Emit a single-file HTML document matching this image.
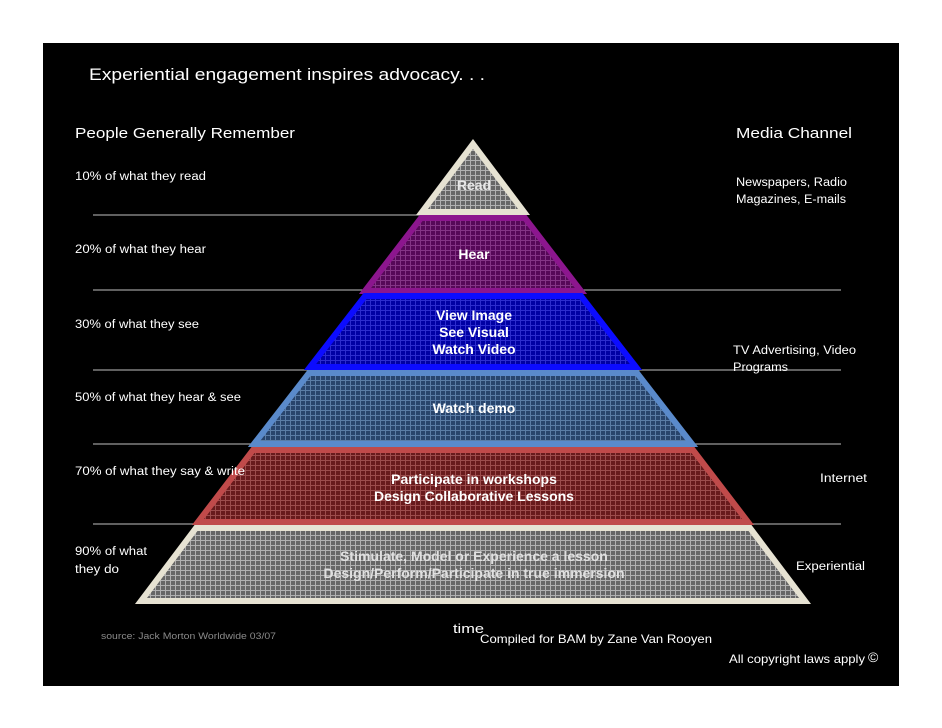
<!DOCTYPE html>
<html><head><meta charset="utf-8"><style>html,body{margin:0;padding:0;background:#fff}svg{display:block}</style></head><body>
<svg width="942" height="728" xmlns="http://www.w3.org/2000/svg" font-family="Liberation Sans, sans-serif">
<defs>
<pattern id="pg" width="5" height="5" patternUnits="userSpaceOnUse"><rect width="5" height="5" fill="#666"/><path d="M0 0.5H5M0.5 0V5" stroke="#b0b0b0" stroke-width="1"/></pattern>
<pattern id="pp" width="5" height="5" patternUnits="userSpaceOnUse"><rect width="5" height="5" fill="#560858"/><path d="M0 0.5H5M0.5 0V5" stroke="#843486" stroke-width="1"/></pattern>
<pattern id="pb" width="5" height="5" patternUnits="userSpaceOnUse"><rect width="5" height="5" fill="#0000a4"/><path d="M0 0.5H5M0.5 0V5" stroke="#2c2cce" stroke-width="1"/></pattern>
<pattern id="pl" width="5" height="5" patternUnits="userSpaceOnUse"><rect width="5" height="5" fill="#28446c"/><path d="M0 0.5H5M0.5 0V5" stroke="#5a7ca6" stroke-width="1"/></pattern>
<pattern id="pr" width="5" height="5" patternUnits="userSpaceOnUse"><rect width="5" height="5" fill="#681a1c"/><path d="M0 0.5H5M0.5 0V5" stroke="#9c4c4c" stroke-width="1"/></pattern>
</defs>
<rect x="43" y="43" width="856" height="643" fill="#000"/>
<g stroke="#9a9a9a" stroke-width="1.2">
<line x1="93" y1="215" x2="420" y2="215"/>
<line x1="93" y1="290" x2="841" y2="290"/>
<line x1="93" y1="370" x2="841" y2="370"/>
<line x1="93" y1="444" x2="841" y2="444"/>
<line x1="93" y1="524" x2="841" y2="524"/>
</g>
<g stroke-width="6" stroke-linejoin="miter">
<polygon points="473,144 524,212 422,212" fill="url(#pg)" stroke="#e6e2d2"/>
<polygon points="421,218 525,218 581,291 365,291" fill="url(#pp)" stroke="#8c168e"/>
<polygon points="365,296 581,296 636,367 310,367" fill="url(#pb)" stroke="#0c0cff"/>
<polygon points="309,373 637,373 692,444 254,444" fill="url(#pl)" stroke="#5a8acb"/>
<polygon points="253,450 693,450 748,522 198,522" fill="url(#pr)" stroke="#c04a4a"/>
<polygon points="196,528 750,528 805,601 141,601" fill="url(#pg)" stroke="#e6e2d2"/>
</g>
<g fill="#fff" font-weight="bold" font-size="14" text-anchor="middle">
<text x="474" y="190" fill="#e8e8e8">Read</text>
<text x="474" y="259">Hear</text>
<text x="474" y="320">View Image</text>
<text x="474" y="337">See Visual</text>
<text x="474" y="354">Watch Video</text>
<text x="474" y="413">Watch demo</text>
<text x="474" y="484">Participate in workshops</text>
<text x="474" y="501">Design Collaborative Lessons</text>
<text x="474" y="561" fill="#e0e0e0">Stimulate, Model or Experience a lesson</text>
<text x="474" y="578" fill="#e0e0e0">Design/Perform/Participate in true immersion</text>
</g>
<g fill="#fff">
<text x="89" y="80" font-size="17" textLength="396" lengthAdjust="spacingAndGlyphs">Experiential engagement inspires advocacy. . .</text>
<text x="75" y="138" font-size="15" textLength="220" lengthAdjust="spacingAndGlyphs">People Generally Remember</text>
<text x="736" y="138" font-size="15" textLength="116" lengthAdjust="spacingAndGlyphs">Media Channel</text>
<g font-size="11.5">
<text x="75" y="180" textLength="131" lengthAdjust="spacingAndGlyphs">10% of what they read</text>
<text x="75" y="253" textLength="131" lengthAdjust="spacingAndGlyphs">20% of what they hear</text>
<text x="75" y="328" textLength="124" lengthAdjust="spacingAndGlyphs">30% of what they see</text>
<text x="75" y="401" textLength="166" lengthAdjust="spacingAndGlyphs">50% of what they hear &amp; see</text>
<text x="75" y="475" textLength="170" lengthAdjust="spacingAndGlyphs">70% of what they say &amp; write</text>
<text x="75" y="555" textLength="72" lengthAdjust="spacingAndGlyphs">90% of what</text>
<text x="75" y="573" textLength="44" lengthAdjust="spacingAndGlyphs">they do</text>
<text x="736" y="186" textLength="111" lengthAdjust="spacingAndGlyphs">Newspapers, Radio</text>
<text x="736" y="203" textLength="110" lengthAdjust="spacingAndGlyphs">Magazines, E-mails</text>
<text x="733" y="354" textLength="123" lengthAdjust="spacingAndGlyphs">TV Advertising, Video</text>
<text x="733" y="371" textLength="55" lengthAdjust="spacingAndGlyphs">Programs</text>
<text x="820" y="482" textLength="47" lengthAdjust="spacingAndGlyphs">Internet</text>
<text x="796" y="570" textLength="69" lengthAdjust="spacingAndGlyphs">Experiential</text>
<text x="453" y="633" font-size="13" textLength="31" lengthAdjust="spacingAndGlyphs">time</text>
</g>
<text x="101" y="639" font-size="9" fill="#8a8a8a" textLength="175" lengthAdjust="spacingAndGlyphs">source: Jack Morton Worldwide 03/07</text>
<text x="480" y="643" font-size="12" textLength="232" lengthAdjust="spacingAndGlyphs">Compiled for BAM by Zane Van Rooyen</text>
<text x="729" y="663" font-size="12" textLength="136" lengthAdjust="spacingAndGlyphs">All copyright laws apply</text>
<text x="868" y="662" font-size="14">©</text>
</g>
</svg>
</body></html>
